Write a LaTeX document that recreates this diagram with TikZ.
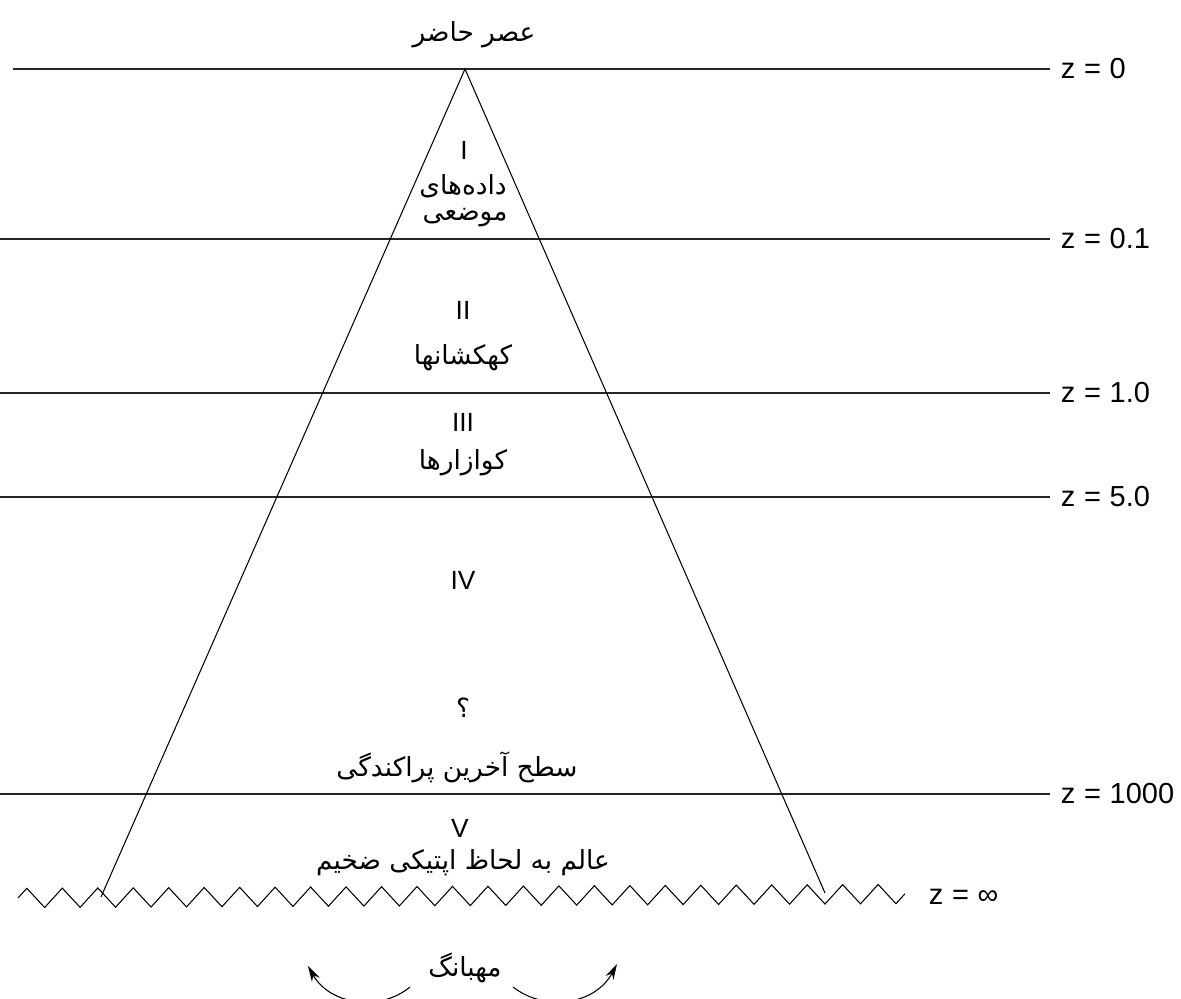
\documentclass[tikz,border=0pt]{standalone}
\usepackage{fontspec}
\setmainfont{Liberation Sans}
\newfontfamily\fafont[Script=Arabic]{DejaVu Sans}
\TeXXeTstate=1
\usetikzlibrary{arrows.meta,decorations.pathmorphing}

\begin{document}
\begin{tikzpicture}[
  x=0.02cm, y=-0.02cm,
  zline/.style={line width=0.75pt, black!85},
  side/.style={line width=0.6pt},
  zlab/.style={anchor=west, inner xsep=6pt, inner ysep=0pt, font=\fontsize{16.5}{18}\selectfont},
  roman/.style={font=\fontsize{15}{17}\selectfont},
  fa/.style={font=\fafont\fontsize{15}{17}\selectfont},
  rim/.style={line width=0.6pt, decorate, decoration={zigzag, amplitude=5.5pt, segment length=20.19pt}},
  bbarrow/.style={-{Stealth[length=9pt,width=5pt]}, line width=0.6pt}
]
\useasboundingbox (0,0) rectangle (1181,999);

\coordinate (apex) at (465,69);
\coordinate (lfoot) at (101,897);
\coordinate (rfoot) at (825,893);
\coordinate (rimL) at (18,898);
\coordinate (rimR) at (905,894);

\foreach \nm/\yy/\xs/\txt in {z0/69/13/0, z1/239/0/0.1, z2/393/0/1.0, z3/497/0/5.0, z4/794/0/1000}{
  \node[zlab] (\nm) at (1050,\yy) {z\hspace{0.3em}=\hspace{0.3em}\txt};
  \coordinate (\nm s) at (\xs,\yy);
  \draw[zline] (\nm s) -- (\nm);
}

\draw[side] (lfoot) -- (apex) -- (rfoot);
\draw[rim] (rimL) -- (rimR);
\node[zlab] (zinf) at (918,897) {z\hspace{0.3em}=\hspace{0.3em}∞};

\node[fa] (now) at (474,35) {\beginR عصر حاضر\endR};
\node[roman] (r1) at (464,150) {I};
\node[fa] (local1) at (463,186) {\beginR داده‌های\endR};
\node[fa] (local2) at (465,218) {\beginR موضعی\endR};
\node[roman] (r2) at (463,310) {II};
\node[fa] (gal) at (463,358) {\beginR کهکشانها\endR};
\node[roman] (r3) at (463,422) {III};
\node[fa] (qso) at (463,463) {\beginR کوازارها\endR};
\node[roman] (r4) at (463,580) {IV};
\node[fa] (qm) at (463,708) {\beginR ؟\endR};
\node[fa] (lss) at (457,767) {\beginR سطح آخرین پراکندگی\endR};
\node[roman] (r5) at (460,828) {V};
\node[fa] (thick) at (463,863) {\beginR عالم به لحاظ اپتیکی ضخیم\endR};

\node[fa] (bb) at (465,968) {\beginR مهبانگ\endR};
\coordinate (bbL0) at (410,987);
\coordinate (bbL1) at (308,966);
\coordinate (bbR0) at (513,987);
\coordinate (bbR1) at (617,964);
\draw[bbarrow] (bbL0) .. controls (380,1012) and (330,1005) .. (bbL1);
\draw[bbarrow] (bbR0) .. controls (545,1012) and (595,1005) .. (bbR1);
\end{tikzpicture}
\end{document}
